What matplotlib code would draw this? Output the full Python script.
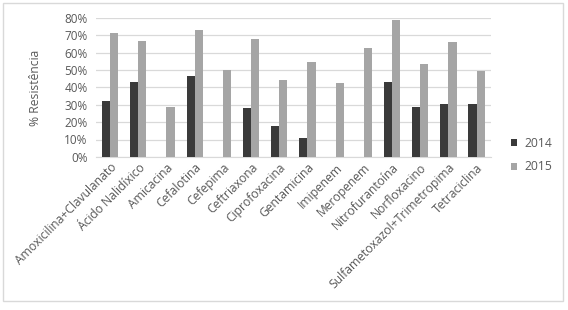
import numpy as np
import matplotlib.pyplot as plt
from matplotlib.patches import Rectangle
from matplotlib.ticker import PercentFormatter

antibioticos = ["Amoxicilina+Clavulanato", "Ácido Nalidíxico", "Amicacina", "Cefalotina",
                "Cefepima", "Ceftriaxona", "Ciprofoxacina", "Gentamicina", "Imipenem",
                "Meropenem", "Nitrofurantoína", "Norfloxacino",
                "Sulfametoxazol+Trimetropima", "Tetraciclina"]
res_2014 = [32, 43, 0, 46.6, 0, 28.1, 17.9, 11, 0, 0, 43, 28.5, 30.3, 30.3]
res_2015 = [71.3, 66.5, 28.5, 72.8, 49.9, 68, 44.5, 54.7, 42.8, 62.6, 78.6, 53.6, 66.3, 49.7]
anos = ["2014", "2015"]
y_ticks = [0, 10, 20, 30, 40, 50, 60, 70, 80]

plt.rcParams['font.family'] = ['Open Sans', 'DejaVu Sans']
TXT = "#595959"

fig = plt.figure(figsize=(5.68, 3.10), dpi=100)
fig.patches.append(Rectangle((0.006, 0.03), 0.985, 0.96, transform=fig.transFigure,
                             fill=False, edgecolor="#d9d9d9", linewidth=1))
ax = fig.add_axes([0.169, 0.494, 0.695, 0.448])

x = np.arange(len(antibioticos))
w = 0.29
ax.bar(x - w / 2, res_2014, w, color="#3a3a3a", label=anos[0], zorder=3)
ax.bar(x + w / 2, res_2015, w, color="#a5a5a5", label=anos[1], zorder=3)

ax.set_xlim(-0.5, len(antibioticos) - 0.5)
ax.set_ylim(0, 80)
ax.set_yticks(y_ticks)
ax.yaxis.set_major_formatter(PercentFormatter(decimals=0))
ax.grid(axis="y", color="#d9d9d9", linewidth=0.9, zorder=0)
for s in ["top", "right", "left"]:
    ax.spines[s].set_visible(False)
ax.spines["bottom"].set_color("#d9d9d9")
ax.tick_params(axis="y", length=0, labelsize=8.5, colors=TXT, pad=6)
ax.tick_params(axis="x", length=0, labelsize=8.7, colors=TXT, pad=3)
ax.set_xticks(x)
ax.set_xticklabels(antibioticos, rotation=45, ha="right", rotation_mode="anchor")
ax.set_ylabel("% Resistência", fontsize=8.7, color=TXT, labelpad=16)

fig.legend(loc="center left", bbox_to_anchor=(0.88, 0.5), frameon=False,
           fontsize=8.7, labelcolor=TXT, handlelength=0.55, handleheight=0.55,
           handletextpad=0.6, labelspacing=0.9)

fig.savefig("out.png", dpi=100)
